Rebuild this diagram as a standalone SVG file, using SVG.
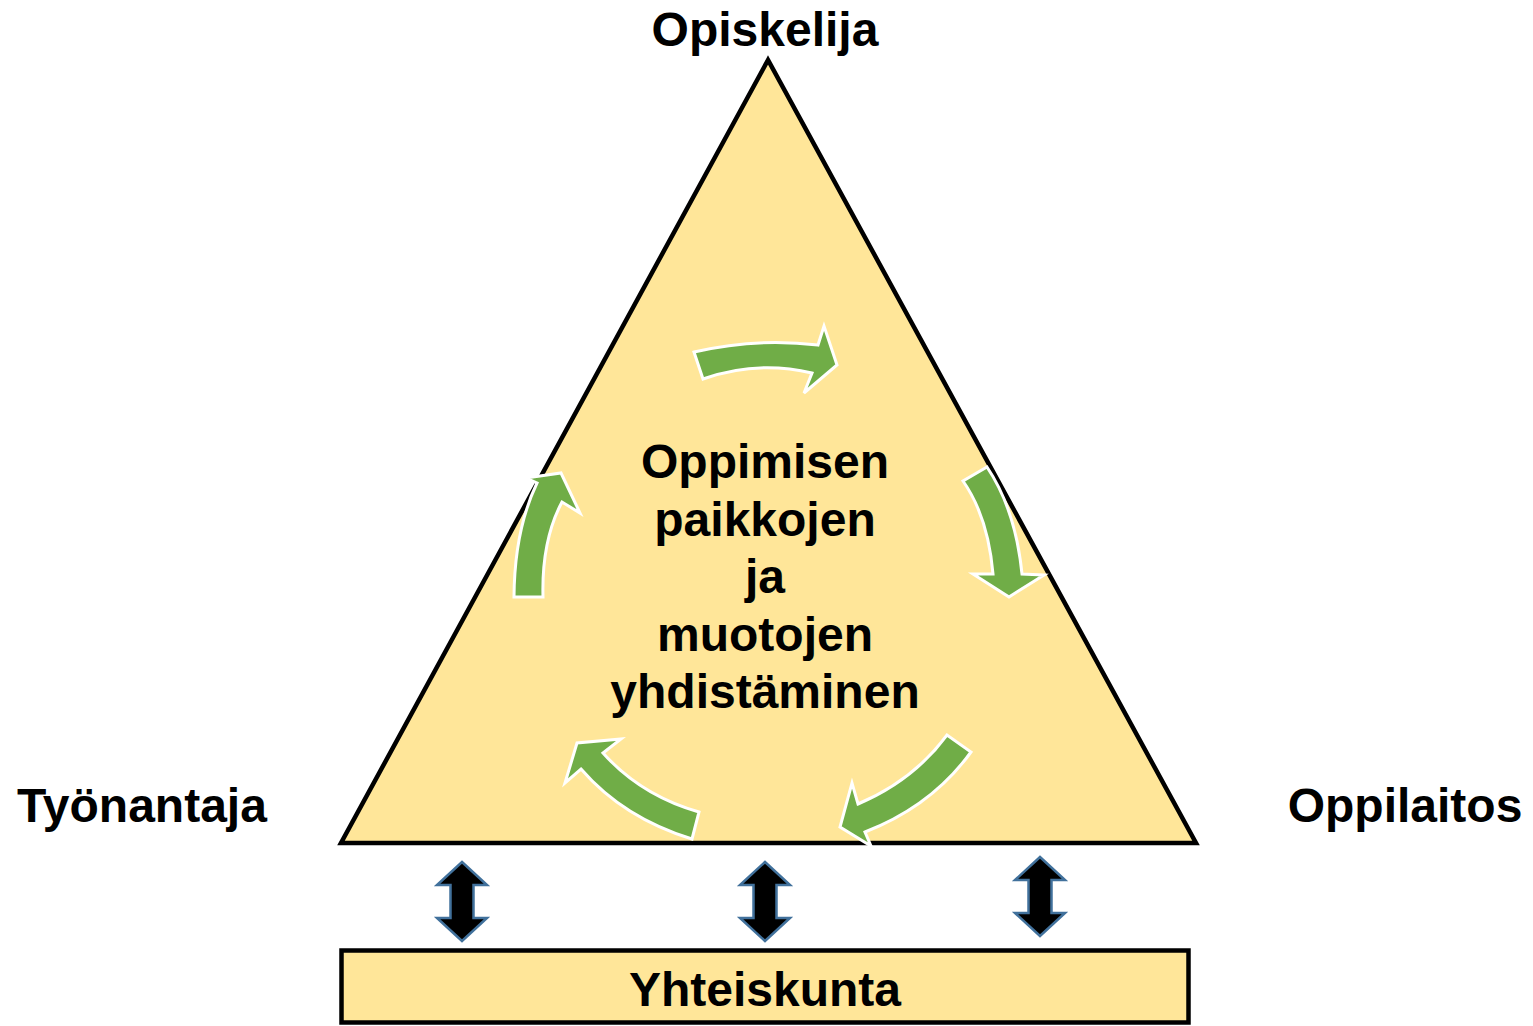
<svg xmlns="http://www.w3.org/2000/svg" xmlns:xlink="http://www.w3.org/1999/xlink" width="1533" height="1026" viewBox="0 0 1533 1026">
<style>
  .lbl { font-family: "Liberation Sans", Arial, sans-serif; font-weight: bold; font-size: 48px; fill: #000; text-anchor: middle; }
  .tri { fill: #FFE699; stroke: #000; stroke-width: 4.5; stroke-linejoin: miter; }
  .box { fill: #FFE699; stroke: #000; stroke-width: 4.5; }
  .cyc { fill: #70AD47; stroke: #FFFFFF; stroke-width: 3; stroke-linejoin: miter; }
  .dbl { fill: #000; stroke: #41719C; stroke-width: 2.5; stroke-linejoin: miter; }
</style>
<defs>
  <path id="dblArrow" d="M0,0 L25,23 L11.5,23 L11.5,56 L25,56 L0,79 L-25,56 L-11.5,56 L-11.5,23 L-25,23 Z"/>
</defs>
<rect width="1533" height="1026" fill="#FFFFFF"/>

<g id="triangle">
  <polygon class="tri" points="768,60 341,843 1196,843"/>
</g>

<g id="cycle-arrows">
  <path class="cyc" d="M694,352 Q756,337.5 818,345 L824,326 L837,365 L804,393 L812,373 Q757,360 703,379 Z"/>
  <path class="cyc" d="M963,481 Q988,516.5 993,574 L973,574 L1009,597 L1044,575 L1022,574 Q1015.5,509.5 987,467 Z"/>
  <path class="cyc" d="M947,735 Q913.5,780.5 858,804 L852,783 L840,827 L871,846 L865,832 Q932,806 971,752 Z"/>
  <path class="cyc" d="M699,812 Q641,795.5 603,753 L621,739 L577,743 L565,783 L581,769 Q623.5,818 692,839 Z"/>
  <path class="cyc" d="M514,597 Q514.5,530 537,483 L526,478 L561,473 L580,513 L562,502 Q541.5,540.5 543,597 Z"/>
</g>

<g id="center-text">
  <text class="lbl" x="765" y="478">Oppimisen</text>
  <text class="lbl" x="765" y="536">paikkojen</text>
  <text class="lbl" x="765" y="593">ja</text>
  <text class="lbl" x="765" y="651">muotojen</text>
  <text class="lbl" x="765" y="708">yhdistäminen</text>
</g>

<g id="opiskelija">
  <text class="lbl" x="765" y="46">Opiskelija</text>
</g>
<g id="tyonantaja">
  <text class="lbl" x="142" y="822">Työnantaja</text>
</g>
<g id="oppilaitos">
  <text class="lbl" x="1405" y="822">Oppilaitos</text>
</g>

<g id="yhteiskunta">
  <rect class="box" x="341.5" y="950.5" width="847" height="72"/>
  <text class="lbl" x="765" y="1006">Yhteiskunta</text>
</g>

<g id="connectors">
  <use xlink:href="#dblArrow" class="dbl" transform="translate(462,862)"/>
  <use xlink:href="#dblArrow" class="dbl" transform="translate(765,862)"/>
  <use xlink:href="#dblArrow" class="dbl" transform="translate(1040,857)"/>
</g>
</svg>
